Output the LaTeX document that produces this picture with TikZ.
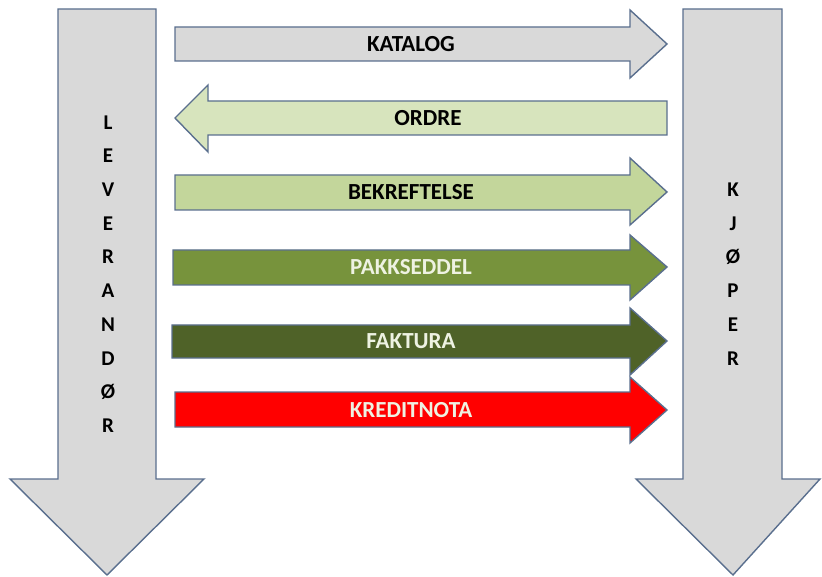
\documentclass[tikz,border=0pt]{standalone}
\usepackage{fontspec}
\setmainfont{Carlito}

\definecolor{rim}{HTML}{5A6F8E}
\definecolor{panel}{HTML}{D9D9D9}
\definecolor{ordrefill}{HTML}{D7E4BD}
\definecolor{bekrfill}{HTML}{C3D69B}
\definecolor{pakkfill}{HTML}{77933C}
\definecolor{faktfill}{HTML}{4F6228}
\definecolor{kredfill}{HTML}{FF0000}
\definecolor{paletext}{HTML}{EEF2E2}

\tikzset{
  blockarrow/.style={draw=rim, line width=1.4pt, line join=miter},
  arrowtext/.style={font=\fontsize{23}{23}\selectfont\bfseries, inner sep=0pt},
  sidetext/.style={font=\fontsize{21}{33.7}\selectfont\bfseries, align=center, inner sep=0pt},
}

\begin{document}
\begin{tikzpicture}[x=1pt,y=-1pt]
        \useasboundingbox (0,0) rectangle (822,577);

        % the two parties
        \filldraw[blockarrow,fill=panel] (58,9) -- (156,9) -- (156,479) -- (204,479)
            -- (107,575) -- (10,479) -- (58,479) -- cycle;
        \filldraw[blockarrow,fill=panel] (683,9) -- (782,9) -- (782,479) -- (820,479)
            -- (733,575) -- (636,479) -- (683,479) -- cycle;
        \node[sidetext] (leverandor) at (108,274) {L\\E\\V\\E\\R\\A\\N\\D\\Ø\\R};
        \node[sidetext] (kjoper) at (733,274) {K\\J\\Ø\\P\\E\\R};

        % the documents
        \filldraw[blockarrow,fill=panel] (175,27) -- (630,27) -- (630,10) -- (667,44)
            -- (630,78) -- (630,61) -- (175,61) -- cycle;
        \node[arrowtext] (katalog) at (411,44) {KATALOG};

        \filldraw[blockarrow,fill=ordrefill] (667,101) -- (208,101) -- (208,85) -- (175,118)
            -- (208,152) -- (208,135) -- (667,135) -- cycle;
        \node[arrowtext] (ordre) at (428,118) {ORDRE};

        \filldraw[blockarrow,fill=bekrfill] (175,175) -- (630,175) -- (630,158) -- (667,192)
            -- (630,225) -- (630,210) -- (175,210) -- cycle;
        \node[arrowtext] (bekreftelse) at (411,192) {BEKREFTELSE};

        \filldraw[blockarrow,fill=pakkfill] (173,250) -- (630,250) -- (630,235) -- (667,267)
            -- (630,300) -- (630,285) -- (173,285) -- cycle;
        \node[arrowtext,text=paletext] (pakkseddel) at (411,267) {PAKKSEDDEL};

        \filldraw[blockarrow,fill=faktfill] (172,325) -- (630,325) -- (630,308) -- (667,341)
            -- (630,375) -- (630,358) -- (172,358) -- cycle;
        \node[arrowtext,text=paletext] (faktura) at (411,341) {FAKTURA};

        \filldraw[blockarrow,fill=kredfill] (175,392) -- (630,392) -- (630,377) -- (667,410)
            -- (630,443) -- (630,427) -- (175,427) -- cycle;
        \node[arrowtext,text=paletext] (kreditnota) at (411,410) {KREDITNOTA};
\end{tikzpicture}
\end{document}
